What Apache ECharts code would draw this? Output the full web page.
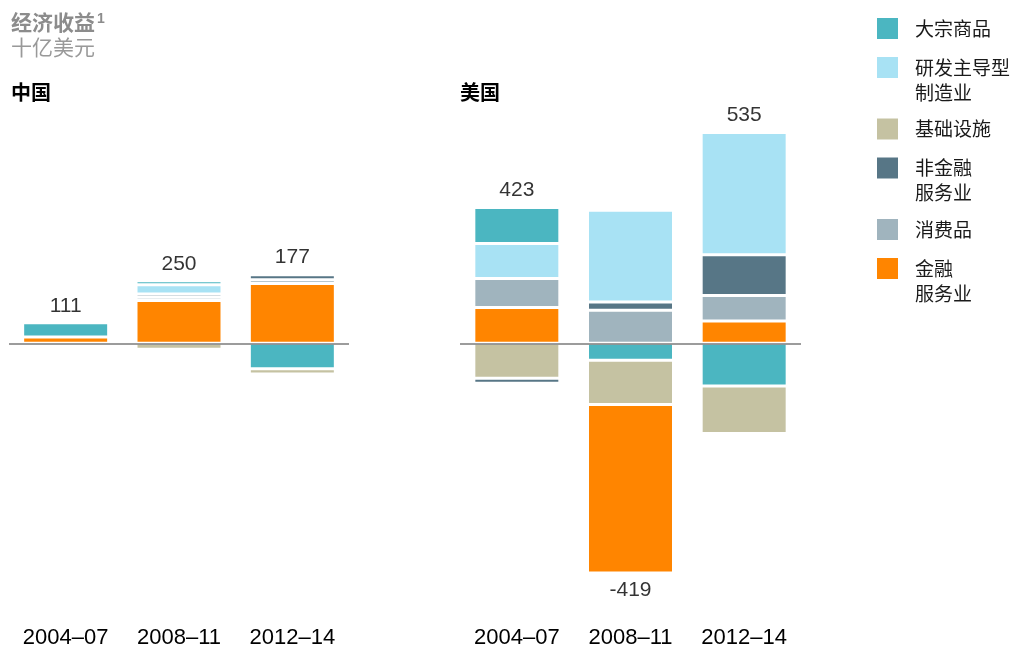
<!DOCTYPE html>
<html>
<head>
<meta charset="utf-8">
<script src="https://cdn.jsdelivr.net/npm/echarts@6/dist/echarts.min.js"></script>
<style>
  html, body { margin: 0; padding: 0; background: #fff; }
  #chart { width: 1011px; height: 650px; }
</style>
</head>
<body>
<div id="chart"></div>
<script>
// 时间段
const periods = ['2004–07', '2008–11', '2012–14'];

// 中国, 十亿美元
const cnCommodities = [62, 18, -112];
const cnRdManufacturing = ['-', 40, '-'];
const cnInfrastructure = ['-', -26, -23];
const cnNonFinServices = ['-', 15, 23];
const cnConsumer = ['-', 14, 16];
const cnFinServices = [28, 188, 263];
const cnTotals = [111, 250, 177];

// 美国
const usCommodities = [158, -75, -188];
const usRdManufacturing = [154, 403, 538];
const usInfrastructure = [-154, -194, -209];
const usNonFinServices = [-22, 37, 179];
const usConsumer = [128, 145, 112];
const usFinServices = [157, -742, 98];
const usTotals = [423, -419, 535];

const categoryNames = ['大宗商品', '研发主导型制造业', '基础设施', '非金融服务业', '消费品', '金融服务业'];
const legendLabels = ['大宗商品', '研发主导型\n制造业', '基础设施', '非金融\n服务业', '消费品', '金融\n服务业'];
const colors = ['#4bb6c1', '#a8e2f4', '#c5c2a2', '#577686', '#a0b4be', '#ff8500'];

const CJK = '"Noto Sans CJK SC", sans-serif';
const NUM = '"Liberation Sans", Arial, sans-serif';

// 正值从零往上的顺序, 负值从零往下的顺序
const posOrder = [5, 4, 3, 1, 0, 2];
const negOrder = [0, 2, 3, 5, 4, 1];

function num(v) { return v === '-' ? 0 : v; }

function buildSeries(gridIdx, values, totals) {
  const stack = 'g' + gridIdx;
  const out = [];
  const mk = (ci, sign) => ({
    name: categoryNames[ci],
    type: 'bar',
    xAxisIndex: gridIdx,
    yAxisIndex: gridIdx,
    stack: stack,
    barWidth: 86,
    itemStyle: { color: colors[ci], borderColor: '#fff', borderWidth: 1.5 },
    emphasis: { disabled: true },
    data: values[ci].map(v => (v !== '-' && (sign > 0 ? v > 0 : v < 0)) ? v : '-')
  });
  posOrder.forEach(ci => out.push(mk(ci, 1)));
  negOrder.forEach(ci => out.push(mk(ci, -1)));

  // 合计标签: 放在正值堆叠顶部或负值堆叠底部
  const totalPts = totals.map((t, i) => {
    let pos = 0, neg = 0;
    values.forEach(arr => { const v = num(arr[i]); if (v > 0) pos += v; else neg += v; });
    return {
      value: [i, t >= 0 ? pos : neg],
      label: { position: t >= 0 ? 'top' : 'bottom' }
    };
  });
  out.push({
    type: 'scatter',
    xAxisIndex: gridIdx,
    yAxisIndex: gridIdx,
    symbolSize: 1,
    itemStyle: { color: 'rgba(0,0,0,0)' },
    silent: true,
    label: {
      show: true,
      distance: 6,
      fontSize: 21,
      color: '#000',
      fontFamily: NUM,
      formatter: p => String(totals[p.dataIndex])
    },
    data: totalPts,
    markLine: {
      silent: true,
      symbol: ['none', 'none'],
      label: { show: false },
      z: 5,
      lineStyle: { color: 'rgba(90,90,90,0.6)', width: 2, type: 'solid' },
      data: [{ yAxis: 0 }]
    }
  });
  return out;
}

const cnValues = [cnCommodities, cnRdManufacturing, cnInfrastructure, cnNonFinServices, cnConsumer, cnFinServices];
const usValues = [usCommodities, usRdManufacturing, usInfrastructure, usNonFinServices, usConsumer, usFinServices];

// 图例 (图标与第一行文字对齐)
const legendGraphics = [];
let ly = 18;
legendLabels.forEach((lab, i) => {
  const lines = lab.split('\n').length;
  legendGraphics.push({
    type: 'rect', left: 877, top: ly, silent: true,
    shape: { width: 21, height: 21 }, style: { fill: colors[i] }
  });
  legendGraphics.push({
    type: 'text', x: 915, y: ly - 2, silent: true,
    style: { text: lab, font: '19px ' + CJK, fill: '#1a1a1a', lineHeight: 25, verticalAlign: 'top' }
  });
  ly += 39 + (lines - 1) * 22.5;
});

const xAxisBase = {
  type: 'category',
  data: periods,
  axisLine: { show: false, onZero: false },
  axisTick: { show: false },
  splitLine: { show: false },
  axisLabel: { fontSize: 22, color: '#000', fontFamily: NUM, margin: 11 }
};
const yAxisBase = { type: 'value', min: -1200, max: 1000, show: false };

const chart = echarts.init(document.getElementById('chart'));
chart.setOption({
  animation: false,
  backgroundColor: '#fff',
  title: [
    {
      text: '{a|经济收益}{b|1}',
      subtext: '十亿美元',
      left: 11, top: 12, padding: 0, itemGap: 4,
      textStyle: {
        rich: {
          a: { fontSize: 21, fontWeight: 'bold', color: '#8c8c8c', fontFamily: CJK },
          b: { fontSize: 14, fontWeight: 'bold', color: '#8c8c8c', fontFamily: NUM, verticalAlign: 'top', padding: [0, 0, 0, 2] }
        }
      },
      subtextStyle: { fontSize: 21, color: '#999', fontFamily: CJK }
    },
    { text: '中国', left: 11, top: 82, padding: 0, textStyle: { fontSize: 20, fontWeight: 'bold', color: '#000', fontFamily: CJK } },
    { text: '美国', left: 460, top: 82, padding: 0, textStyle: { fontSize: 20, fontWeight: 'bold', color: '#000', fontFamily: CJK } }
  ],
  grid: [
    { left: 9, top: 116, width: 340, height: 500 },
    { left: 460, top: 116, width: 341, height: 500 }
  ],
  xAxis: [
    Object.assign({ gridIndex: 0 }, xAxisBase),
    Object.assign({ gridIndex: 1 }, xAxisBase)
  ],
  yAxis: [
    Object.assign({ gridIndex: 0 }, yAxisBase),
    Object.assign({ gridIndex: 1 }, yAxisBase)
  ],
  graphic: legendGraphics,
  series: buildSeries(0, cnValues, cnTotals).concat(buildSeries(1, usValues, usTotals))
});
</script>
</body>
</html>
